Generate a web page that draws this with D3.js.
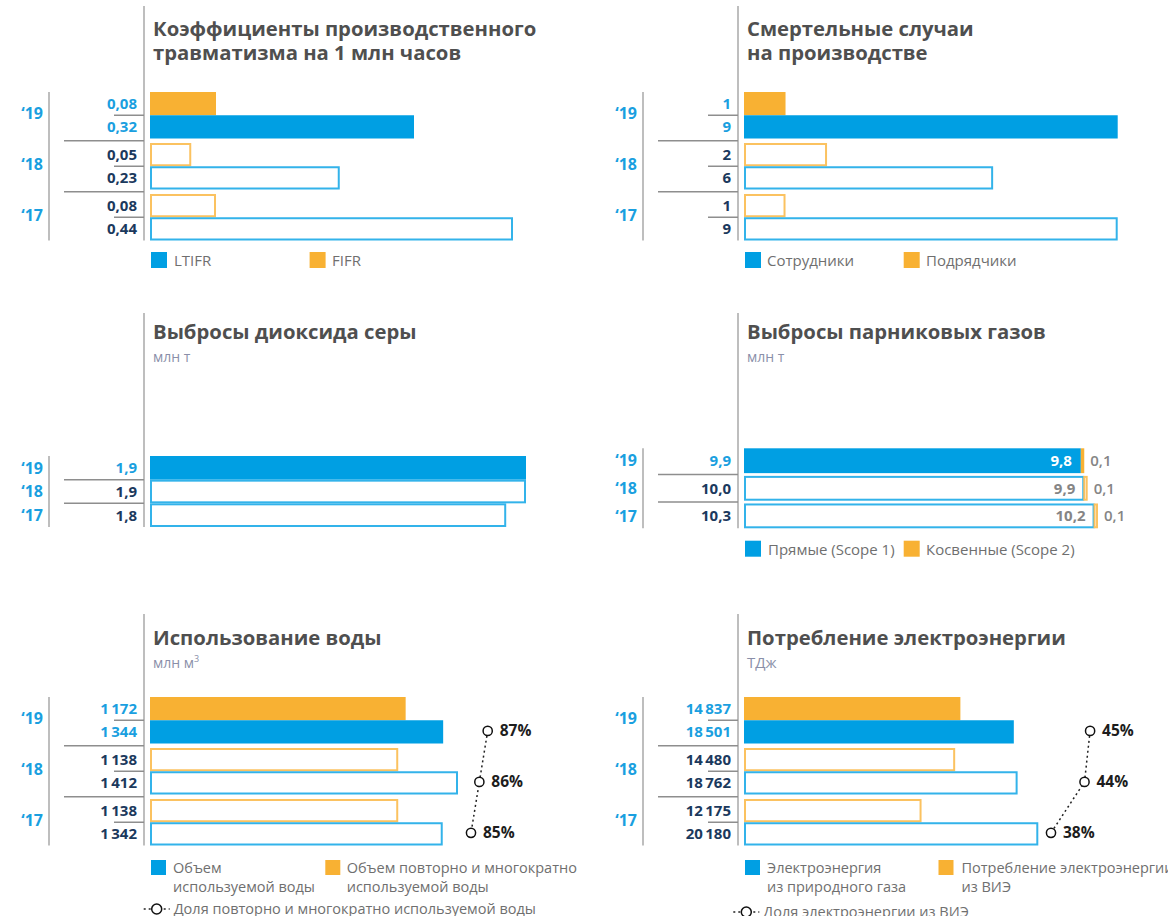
<!DOCTYPE html>
<html><head><meta charset="utf-8">
<script src="https://cdn.jsdelivr.net/npm/d3@7"></script>
<style>
body{margin:0;background:#fff;}
svg{display:block;font-family:"Open Sans",sans-serif;}
</style></head><body>
<svg id="chart" width="1168" height="916"></svg>
<script>
// ---------- data ----------
const years = ["‘19", "‘18", "‘17"];
const ltifr = [0.32, 0.23, 0.44];
const fifr = [0.08, 0.05, 0.08];
const employees = [9, 6, 9];
const contractors = [1, 2, 1];
const so2 = [1.9, 1.9, 1.8];
const ghgTotal = [9.9, 10.0, 10.3];
const ghgScope1 = [9.8, 9.9, 10.2];
const ghgScope2 = [0.1, 0.1, 0.1];
const waterUsed = [1344, 1412, 1342];
const waterReused = [1172, 1138, 1138];
const waterShare = [87, 86, 85];
const gasPower = [18501, 18762, 20180];
const renewPower = [14837, 14480, 12175];
const renewShare = [45, 44, 38];

const titles = {
  injury: ["Коэффициенты производственного", "травматизма на 1 млн часов"],
  fatal: ["Смертельные случаи", "на производстве"],
  so2: ["Выбросы диоксида серы"],
  ghg: ["Выбросы парниковых газов"],
  water: ["Использование воды"],
  power: ["Потребление электроэнергии"]
};

// ---------- style ----------
const C = {
  blue: "#009fe3", orange: "#f8b133", blueLine: "#33b3ea", orangeLine: "#fbc260",
  light: "#1a9fe0", navy: "#1b395d", grey: "#a9a9a9", sep: "#8e8e8e",
  title: "#4f4f4f", legend: "#6f6f6f", unit: "#8a8fa9", pct: "#1d1d1d", inner: "#858585"
};
const loc = d3.formatLocale({decimal: ",", thousands: "\u2009", grouping: [3], currency: ["", ""]});
const f2 = loc.format(".2f"), f1 = loc.format(".1f"), f0 = loc.format(",d");

const svg = d3.select("#chart");

function frame(g, lineTop, barTop, barBottom) {
  g.append("line").attr("x1", 144).attr("x2", 144).attr("y1", lineTop).attr("y2", barBottom)
    .attr("stroke", C.grey).attr("stroke-width", 1.5);
  g.append("line").attr("x1", 49).attr("x2", 49).attr("y1", barTop).attr("y2", barBottom)
    .attr("stroke", C.grey).attr("stroke-width", 1.5);
}
function hline(g, y, x1) {
  g.append("line").attr("x1", x1).attr("x2", 144).attr("y1", y).attr("y2", y)
    .attr("stroke", C.sep).attr("stroke-width", 1.5);
}
function title(g, lines, y0, unit, unitSize) {
  const t = g.append("text").attr("x", 153).attr("y", y0).attr("font-size", 20.3)
    .attr("font-weight", 700).attr("fill", C.title);
  lines.forEach((l, i) => t.append("tspan").attr("x", 153).attr("dy", i ? 24 : 0).text(l));
  if (unit) {
    const u = g.append("text").attr("x", 153).attr("y", y0 + 23).attr("font-size", unitSize || 14)
      .attr("fill", C.unit);
    u.append("tspan").text(unit[0]);
    if (unit[1]) u.append("tspan").attr("font-size", 9).attr("dy", -6).text(unit[1]);
  }
}
function legend(g, items, y, size, fs) {
  items.forEach(it => {
    g.append("rect").attr("x", it.x).attr("y", y).attr("width", size).attr("height", size).attr("fill", it.color);
    const t = g.append("text").attr("x", it.tx).attr("y", y + size - 2).attr("font-size", fs).attr("fill", C.legend);
    it.lines.forEach((l, i) => t.append("tspan").attr("x", it.tx).attr("dy", i ? 19 : 0).text(l));
  });
}
function yearLabels(g, y, centerOf) {
  g.selectAll(null).data(years).enter().append("text")
    .attr("x", 43).attr("y", d => centerOf(d)).attr("dy", "0.36em")
    .attr("text-anchor", "end").attr("font-size", 16).attr("font-weight", 700)
    .attr("fill", C.light).text(d => d);
}
function outlineRect(sel, x0, x1, y0, h, filled, fill, line) {
  if (filled) {
    sel.append("rect").attr("x", x0).attr("y", y0).attr("width", x1 - x0).attr("height", h).attr("fill", fill);
  } else {
    sel.append("rect").attr("x", x0 + 1).attr("y", y0 + 1).attr("width", Math.max(0, x1 - x0 - 2))
      .attr("height", h - 2).attr("fill", "none").attr("stroke", line).attr("stroke-width", 2);
  }
}

// ---------- paired panels ----------
function paired(ox, cfg) {
  const g = svg.append("g").attr("transform", `translate(${ox},0)`);
  const y = d3.scaleBand().domain(years).range([cfg.top, cfg.top + 148.5]).paddingInner(0.088);
  const sub = d3.scaleBand().domain(["a", "b"]).range([0, y.bandwidth()]);
  const x = d3.scaleLinear().domain([0, cfg.max]).range([150, 150 + cfg.width]);
  frame(g, cfg.lineTop, cfg.top, cfg.top + 148.5);
  title(g, cfg.title, cfg.titleY, cfg.unit, cfg.unitSize);
  const series = [
    {k: "a", vals: cfg.upper, fill: C.orange, line: C.orangeLine},
    {k: "b", vals: cfg.lower, fill: C.blue, line: C.blueLine}
  ];
  series.forEach(s => {
    years.forEach((yr, j) => {
      outlineRect(g, x(0), x(s.vals[j]), y(yr) + sub(s.k), sub.bandwidth(), j === 0, s.fill, s.line);
      g.append("text").attr("x", 137).attr("y", y(yr) + sub(s.k) + sub.bandwidth() / 2).attr("dy", "0.36em")
        .attr("text-anchor", "end").attr("font-size", 15).attr("font-weight", 700)
        .attr("fill", j === 0 ? C.light : C.navy).text(cfg.fmt(s.vals[j]));
    });
  });
  years.forEach((yr, j) => {
    hline(g, y(yr) + sub("b"), 114);
    if (j > 0) hline(g, (y(years[j - 1]) + y.bandwidth() + y(yr)) / 2, 64);
  });
  yearLabels(g, y, d => y(d) + y.bandwidth() / 2 - 2);
  if (cfg.pct) {
    const p = d3.scaleLinear().domain(cfg.pct.domain).range(cfg.pct.range);
    const pts = years.map((yr, j) => [p(cfg.pct.vals[j]), y(yr) + sub("b") + sub.bandwidth() / 2 - 1]);
    g.append("path").attr("d", d3.line()(pts)).attr("fill", "none").attr("stroke", "#222")
      .attr("stroke-width", 1.5).attr("stroke-dasharray", "2,3");
    pts.forEach((pt, j) => {
      g.append("circle").attr("cx", pt[0]).attr("cy", pt[1]).attr("r", 4.6).attr("fill", "#fff")
        .attr("stroke", "#111").attr("stroke-width", 1.5);
      g.append("text").attr("x", pt[0] + 12).attr("y", pt[1]).attr("dy", "0.36em")
        .attr("font-size", 15.5).attr("font-weight", 700).attr("fill", C.pct).text(cfg.pct.vals[j] + "%");
    });
  }
  return g;
}

// top-left
const gA = paired(0, {top: 92, lineTop: 6, max: 0.44, width: 363, fmt: f2, upper: fifr, lower: ltifr,
  title: titles.injury, titleY: 36});
legend(gA, [{x: 151, tx: 174, color: C.blue, lines: ["LTIFR"]}, {x: 309.6, tx: 332, color: C.orange, lines: ["FIFR"]}], 252, 16, 15);

// top-right
const gB = paired(594, {top: 92, lineTop: 6, max: 9, width: 373.7, fmt: f0, upper: contractors, lower: employees,
  title: titles.fatal, titleY: 36});
legend(gB, [{x: 151, tx: 173, color: C.blue, lines: ["Сотрудники"]}, {x: 309.7, tx: 332, color: C.orange, lines: ["Подрядчики"]}], 252, 16, 15);

// bottom-left
const gE = paired(0, {top: 697, lineTop: 614, max: 1412, width: 308, fmt: f0, upper: waterReused, lower: waterUsed,
  title: titles.water, titleY: 645, unit: ["млн м", "3"], unitSize: 14,
  pct: {vals: waterShare, domain: [85, 87], range: [471, 487.7]}});
legend(gE, [{x: 151, tx: 173, color: C.blue, lines: ["Объем", "используемой воды"]},
  {x: 325.3, tx: 346.7, color: C.orange, lines: ["Объем повторно и многократно", "используемой воды"]}], 860, 15, 14.5);

// bottom-right
const gF = paired(594, {top: 697, lineTop: 614, max: 20180, width: 294.3, fmt: f0, upper: renewPower, lower: gasPower,
  title: titles.power, titleY: 645, unit: ["ТДж"], unitSize: 15,
  pct: {vals: renewShare, domain: [38, 45], range: [457, 496.1]}});
legend(gF, [{x: 151, tx: 173, color: C.blue, lines: ["Электроэнергия", "из природного газа"]},
  {x: 344.5, tx: 367.5, color: C.orange, lines: ["Потребление электроэнергии", "из ВИЭ"]}], 860, 15, 14.5);

// share legends
function shareLegend(g, cx, cy, label) {
  g.append("line").attr("x1", cx - 13).attr("x2", cx + 13).attr("y1", cy).attr("y2", cy)
    .attr("stroke", "#222").attr("stroke-width", 1.5).attr("stroke-dasharray", "2,3");
  g.append("circle").attr("cx", cx).attr("cy", cy).attr("r", 5).attr("fill", "#fff").attr("stroke", "#111").attr("stroke-width", 1.5);
  g.append("text").attr("x", cx + 17).attr("y", cy + 5).attr("font-size", 14.5).attr("fill", C.legend).text(label);
}
shareLegend(gE, 156.7, 909, "Доля повторно и многократно используемой воды");
shareLegend(gF, 152.3, 912, "Доля электроэнергии из ВИЭ");

// ---------- single panels ----------
// SO2
(function () {
  const g = svg.append("g");
  const y = d3.scaleBand().domain(years).range([456, 527]).paddingInner(0);
  const x = d3.scaleLinear().domain([0, 1.9]).range([150, 526]);
  frame(g, 313, 456, 527);
  title(g, titles.so2, 339, ["млн т"], 14);
  years.forEach((yr, j) => {
    outlineRect(g, x(0), x(so2[j]), y(yr), y.bandwidth(), j === 0, C.blue, C.blueLine);
    g.append("text").attr("x", 137).attr("y", y(yr) + y.bandwidth() / 2).attr("dy", "0.36em")
      .attr("text-anchor", "end").attr("font-size", 15).attr("font-weight", 700)
      .attr("fill", j === 0 ? C.light : C.navy).text(f1(so2[j]));
    if (j > 0) hline(g, y(yr), 64);
  });
  yearLabels(g, y, d => y(d) + y.bandwidth() / 2);
})();

// GHG
(function () {
  const g = svg.append("g").attr("transform", "translate(594,0)");
  const y = d3.scaleBand().domain(years).range([448.3, 528.3]).paddingInner(0.1);
  const x = d3.scaleLinear().domain([0, 10.3]).range([150, 150 + 34.37 * 10.3]);
  frame(g, 313, 448.3, 528.3);
  title(g, titles.ghg, 339, ["млн т"], 14);
  const rows = years.map((yr, j) => ({year: yr, s1: ghgScope1[j], s2: ghgScope2[j]}));
  const stack = d3.stack().keys(["s1", "s2"])(rows);
  const fills = {s1: C.blue, s2: C.orange}, lines = {s1: C.blueLine, s2: C.orangeLine};
  stack.forEach(layer => {
    layer.forEach((seg, j) => {
      const x0 = x(seg[0]), x1 = x(seg[1]);
      const yr = years[j];
      if (layer.key === "s2" && j > 0) {
        g.append("rect").attr("x", x0).attr("y", y(yr) + 1).attr("width", x1 - x0 - 1)
          .attr("height", y.bandwidth() - 2).attr("fill", "none").attr("stroke", lines.s2).attr("stroke-width", 2);
      } else {
        outlineRect(g, x0, x1, y(yr), y.bandwidth(), j === 0, fills[layer.key], lines[layer.key]);
      }
    });
  });
  years.forEach((yr, j) => {
    const cy = y(yr) + y.bandwidth() / 2;
    g.append("text").attr("x", 137).attr("y", cy).attr("dy", "0.36em")
      .attr("text-anchor", "end").attr("font-size", 15).attr("font-weight", 700)
      .attr("fill", j === 0 ? C.light : C.navy).text(f1(ghgTotal[j]));
    g.append("text").attr("x", x(ghgScope1[j]) - 9).attr("y", cy).attr("dy", "0.36em")
      .attr("text-anchor", "end").attr("font-size", 15).attr("font-weight", 700)
      .attr("fill", j === 0 ? "#fff" : C.inner).text(f1(ghgScope1[j]));
    g.append("text").attr("x", x(ghgScope1[j] + ghgScope2[j]) + 6).attr("y", cy).attr("dy", "0.36em")
      .attr("font-size", 15).attr("font-weight", 600).attr("fill", C.inner).text(f1(ghgScope2[j]));
    if (j > 0) hline(g, (y(years[j - 1]) + y.bandwidth() + y(yr)) / 2, 64);
  });
  yearLabels(g, y, d => y(d) + y.bandwidth() / 2);
  legend(g, [{x: 151, tx: 174, color: C.blue, lines: ["Прямые (Scope 1)"]},
    {x: 309.7, tx: 332, color: C.orange, lines: ["Косвенные (Scope 2)"]}], 540.7, 16, 15);
})();
</script>
</body></html>
